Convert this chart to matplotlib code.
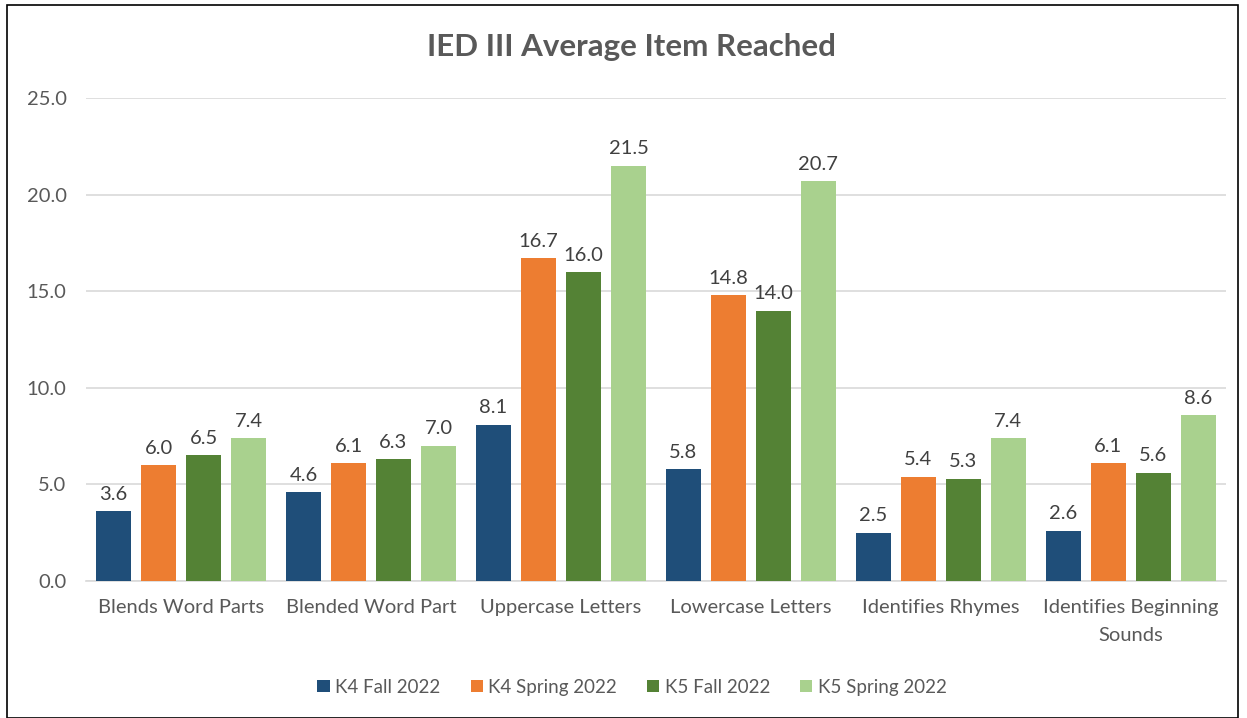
import numpy as np
import matplotlib
matplotlib.use('Agg')
from matplotlib import pyplot as plt
from matplotlib.patches import Rectangle

plt.rcParams['font.family'] = ['Lato', 'DejaVu Sans']

categories = ['Blends Word Parts', 'Blended Word Part', 'Uppercase Letters',
              'Lowercase Letters', 'Identifies Rhymes', 'Identifies Beginning\nSounds']
series_names = ['K4 Fall 2022', 'K4 Spring 2022', 'K5 Fall 2022', 'K5 Spring 2022']
k4_fall = [3.6, 4.6, 8.1, 5.8, 2.5, 2.6]
k4_spring = [6.0, 6.1, 16.7, 14.8, 5.4, 6.1]
k5_fall = [6.5, 6.3, 16.0, 14.0, 5.3, 5.6]
k5_spring = [7.4, 7.0, 21.5, 20.7, 7.4, 8.6]
colors = ['#1F4E79', '#ED7D31', '#548235', '#A9D18E']

fig = plt.figure(figsize=(12.47, 7.18), dpi=100)
ax = fig.add_axes([0.069, 0.1908, 0.914, 0.6727])

x = np.arange(len(categories))
width = 0.184
step = 0.237
all_series = [k4_fall, k4_spring, k5_fall, k5_spring]
for i, (vals, name, c) in enumerate(zip(all_series, series_names, colors)):
    pos = x + (i - 1.5) * step
    bars = ax.bar(pos, vals, width, color=c, label=name, zorder=3)
    for b, v in zip(bars, vals):
        ax.annotate('{:.1f}'.format(v), (b.get_x() + b.get_width() / 2, v),
                    xytext=(0, 6), textcoords='offset points',
                    ha='center', va='bottom', fontsize=14.5, color='#404040')

ax.set_xlim(-0.5, 5.5)
ax.set_ylim(0, 25)
ax.set_yticks(np.arange(0, 25.1, 5))
ax.set_yticklabels(['{:.1f}'.format(t) for t in np.arange(0, 25.1, 5)])
ax.set_xticks(x)
ax.set_xticklabels(categories, linespacing=1.75)
ax.tick_params(axis='both', length=0, labelsize=14.5, labelcolor='#595959')
ax.tick_params(axis='x', pad=13)
ax.tick_params(axis='y', pad=14)
ax.grid(axis='y', color='#d9d9d9', linewidth=1.2, zorder=0)
for s in ['top', 'right', 'left']:
    ax.spines[s].set_visible(False)
ax.spines['bottom'].set_color('#d9d9d9')
ax.spines['bottom'].set_linewidth(1.2)

fig.text(0.506, 0.935, 'IED III Average Item Reached', ha='center', va='center',
         fontsize=22.5, fontweight='bold', color='#595959')

fig.legend(loc='center', bbox_to_anchor=(0.507, 0.043), ncol=4, frameon=False,
           fontsize=13.5, handlelength=0.65, handleheight=0.65, handletextpad=0.3,
           columnspacing=1.6, labelcolor='#595959')

fig.patches.append(Rectangle((0.006, 0.0), 0.987, 0.993, transform=fig.transFigure,
                             fill=False, edgecolor='black', linewidth=1.2))

fig.savefig('out.png', dpi=100)
